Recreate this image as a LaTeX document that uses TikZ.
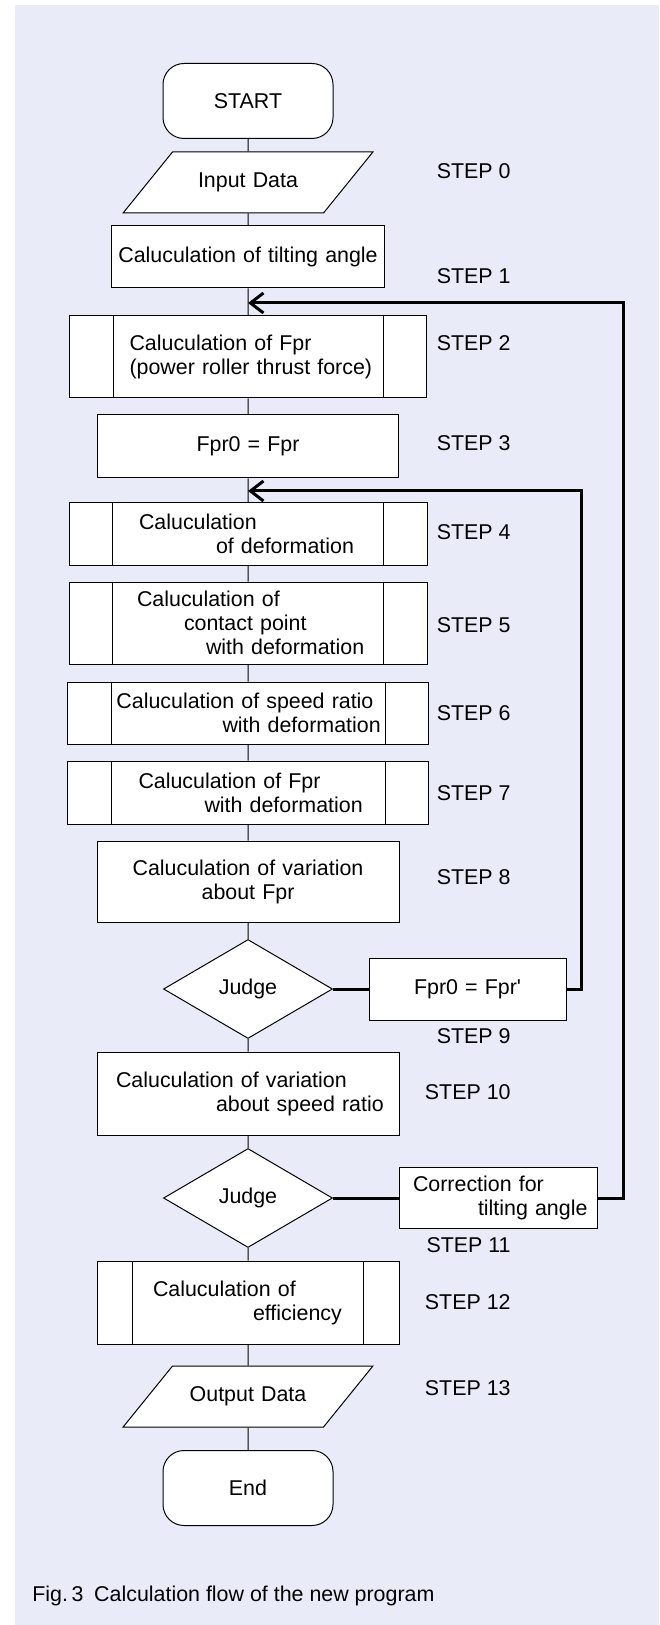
\documentclass[tikz,border=0pt]{standalone}
\usepackage{fontspec}
\setmainfont{Liberation Sans}
\usepackage{tikz}
\usetikzlibrary{shapes,arrows.meta}
\definecolor{panel}{RGB}{233,236,248}

\begin{document}
\begin{tikzpicture}[x=0.5pt, y=-0.5pt,
      every node/.style={font=\fontsize{10.7}{12}\selectfont},
      link/.style={line width=0.5pt},
      feedback/.style={line width=1.5pt},
      proc/.style 2 args={draw, line width=0.5pt, fill=white, minimum width=#1,
            text width=#1, minimum height=#2, inner xsep=0pt, align=left},
      term/.style={draw, line width=0.5pt, fill=white, rounded corners=10.5pt,
            minimum width=85pt, minimum height=37.5pt},
      io/.style={draw, line width=0.5pt, fill=white, trapezium, trapezium left angle=51,
            trapezium right angle=129, text width=75.5pt, align=center, inner xsep=0pt,
            text height=7.7pt, text depth=2.3pt, inner ysep=10.25pt},
      judge/.style={draw, line width=0.5pt, fill=white, diamond, inner sep=0pt,
            minimum width=84.5pt, minimum height=49.5pt},
      steplabel/.style={anchor=east, inner xsep=0pt}]
      \useasboundingbox (0, 0) rectangle (659, 1625);
      \fill [panel] (15, 5) rectangle (659, 1625);

      \node [term] (start) at (248, 101) {START};
      \node [io] (input) at (248, 182.5) {Input Data};
      \node [proc={136.5pt}{31pt}, align=center] (s1) at (248, 257) {Caluculation of tilting angle};
      \node [proc={178.5pt}{41pt}] (s2) at (248, 357)
            {\hspace*{30pt}Caluculation of Fpr\\\hspace*{30pt}(power roller thrust force)};
      \node [proc={150.5pt}{31.5pt}, align=center] (s3) at (248, 446.5) {Fpr0 = Fpr};
      \node [proc={179pt}{31pt}] (s4) at (248, 534)
            {\hspace*{35pt}Caluculation\\\hspace*{73.5pt}of deformation};
      \node [proc={179pt}{41pt}] (s5) at (248, 623)
            {\hspace*{34pt}Caluculation of\\\hspace*{57.5pt}contact point\\\hspace*{68.5pt}with deformation};
      \node [proc={180.5pt}{31pt}] (s6) at (248, 713)
            {\hspace*{24.5pt}Caluculation of speed ratio\\\hspace*{77.5pt}with deformation};
      \node [proc={180.5pt}{31.5pt}] (s7) at (248, 792.5)
            {\hspace*{35.5pt}Caluculation of Fpr\\\hspace*{68.5pt}with deformation};
      \node [proc={151pt}{40.5pt}, align=center] (s8) at (248, 881.5)
            {Caluculation of variation\\about Fpr};
      \node [judge] (j1) at (248, 989) {Judge};
      \node [proc={98.5pt}{31pt}, align=center] (fix1) at (467.5, 989) {Fpr0 = Fpr\textquotesingle};
      \node [proc={151pt}{41.5pt}] (s10) at (248, 1093.5)
            {\hspace*{9.5pt}Caluculation of variation\\\hspace*{59.5pt}about speed ratio};
      \node [judge] (j2) at (248, 1198) {Judge};
      \node [proc={99pt}{30.5pt}] (fix2) at (498, 1198)
            {\hspace*{7pt}Correction for\\\hspace*{39.5pt}tilting angle};
      \node [proc={151pt}{41.5pt}] (s12) at (248, 1302.5)
            {\hspace*{28pt}Caluculation of\\\hspace*{78pt}efficiency};
      \node [io] (output) at (248, 1396.5) {Output Data};
      \node [term] (stop) at (248, 1488) {End};

      \foreach \n/\d in {s2/22pt, s4/22pt, s5/22pt, s6/22pt, s7/22pt, s12/18pt}
            \draw [link] ([xshift=\d]\n.north west) -- ([xshift=\d]\n.south west)
                         ([xshift=-\d]\n.north east) -- ([xshift=-\d]\n.south east);

      \draw [link] (start) -- (input) -- (s1) -- (s2) -- (s3) -- (s4) -- (s5) -- (s6)
                   -- (s7) -- (s8) -- (j1) -- (s10) -- (j2) -- (s12) -- (output) -- (stop);

      \coordinate (back1) at (248, 491);
      \coordinate (back2) at (248, 303);
      \draw [feedback] (j1) -- (fix1);
      \draw [feedback, -{Straight Barb[length=6.5pt, width=10pt]}] (fix1.east) -- ++(15, 0) |- (back1);
      \draw [feedback] (j2) -- (fix2);
      \draw [feedback, -{Straight Barb[length=6.5pt, width=10pt]}] (fix2.east) -- ++(26, 0) |- (back2);

      \foreach \y/\t in {171/0, 276/1, 343/2, 443/3, 532/4, 625/5, 713/6, 793/7, 877/8,
                         1036/9, 1092/10, 1245/11, 1302/12, 1388/13}
            \node [steplabel] (step\t) at (511, \y) {STEP \t};

      \node [anchor=base west, inner xsep=0pt] (caption) at (32, 1601)
            {Fig.\,3\enspace Calculation flow of the new program};
\end{tikzpicture}
\end{document}
